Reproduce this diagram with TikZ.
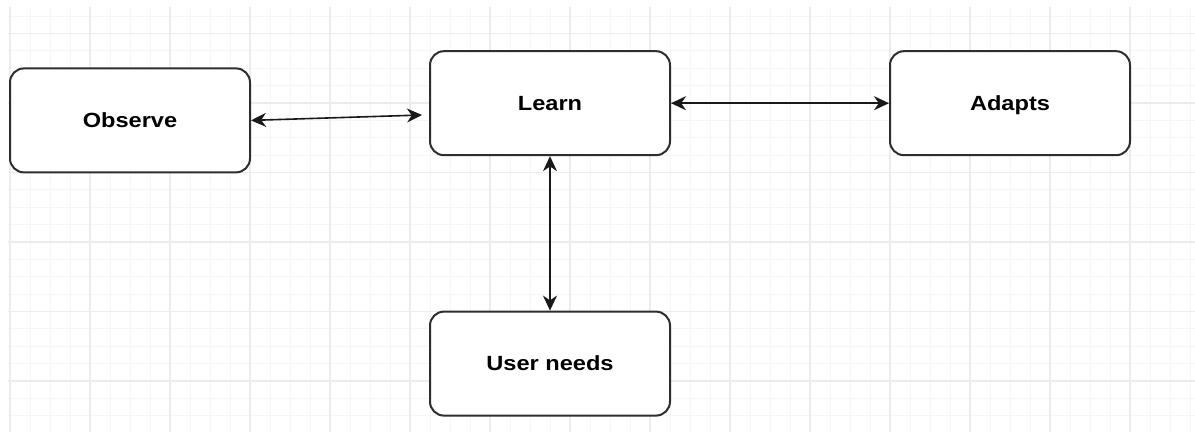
\documentclass[tikz,border=0pt]{standalone}
\usepackage{fontspec}
\setmainfont{Liberation Sans}
\usetikzlibrary{arrows.meta}

\definecolor{gridminor}{HTML}{F6F6F6}
\definecolor{gridmajor}{HTML}{ECECEC}
\definecolor{boxline}{HTML}{2E2E2E}

\tikzset{
  stepbox/.style={draw=boxline, line width=1pt, rounded corners=7pt,
    fill=white, minimum width=120pt, minimum height=52pt, inner sep=0pt,
    text height=7.35pt, text depth=0pt,
    font=\fontsize{11.8pt}{14pt}\selectfont\bfseries, text=black},
  link/.style={line width=0.8pt, draw=black!90,
    {Stealth[length=7.5pt,width=7pt,inset=2.4pt]}-{Stealth[length=7.5pt,width=7pt,inset=2.4pt]}}
}
% labels are set slightly flattened
\newcommand{\squashtext}[1]{\scalebox{1}[0.87]{#1}}

\begin{document}
\begin{tikzpicture}[x=0.5pt,y=-0.5pt]
  \useasboundingbox (0,0) rectangle (1195,432);
  \fill[white] (0,0) rectangle (1195,432);

  % background grid
  \begin{scope}
    \clip (8,7) rectangle (1195,432);
    \foreach \gx in {10,30,...,1190}
      \draw[gridminor, line width=0.5pt] (\gx,7) -- (\gx,432);
    \foreach \k in {-1,...,23}
      \draw[gridminor, line width=0.5pt] (8,33.5+17.375*\k) -- (1195,33.5+17.375*\k);
    \foreach \gx in {10,90,...,1170}
      \draw[gridmajor, line width=0.6pt] (\gx,7) -- (\gx,432);
    \foreach \k in {0,...,5}
      \draw[gridmajor, line width=0.6pt] (8,33.5+69.5*\k) -- (1195,33.5+69.5*\k);
  \end{scope}

  % boxes
  \node[stepbox] (observe) at (130,120.4) {\squashtext{Observe}};
  \node[stepbox] (learn)   at (550,103.2) {\squashtext{Learn}};
  \node[stepbox] (adapts)  at (1010,103.2) {\squashtext{Adapts}};
  \node[stepbox] (user)    at (550,363.6) {\squashtext{User needs}};

  % connectors
  \coordinate (learnin) at ([shift={(-3.5pt,-5.9pt)}]learn.west);
  \draw[link] (observe.east) -- (learnin);
  \draw[link] (learn.east) -- (adapts.west);
  \draw[link] (learn.south) -- (user.north);
\end{tikzpicture}
\end{document}
